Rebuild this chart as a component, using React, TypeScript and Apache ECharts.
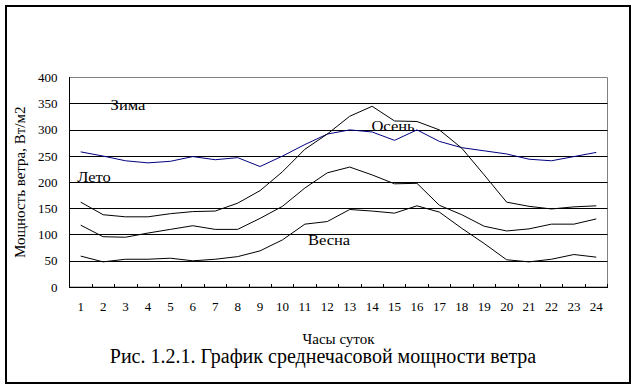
import React, { useEffect, useRef } from "react";
import * as echarts from "echarts";

const hours = ["1","2","3","4","5","6","7","8","9","10","11","12","13","14","15","16","17","18","19","20","21","22","23","24"];
const seriesBlue = [258, 250, 241, 237, 240, 249, 243, 247, 230, 250, 272, 292, 300, 296, 280, 300, 278, 266, 260, 254, 244, 241, 249, 257];
const seriesTop = [162, 138, 134, 134, 140, 144, 145, 160, 184, 220, 263, 292, 326, 345, 317, 316, 300, 265, 214, 162, 154, 149, 153, 155];
const seriesMid = [118, 96, 95, 103, 110, 117, 110, 110, 131, 154, 189, 218, 229, 214, 197, 198, 156, 138, 116, 107, 111, 120, 120, 130];
const seriesLow = [59, 48, 53, 53, 55, 50, 53, 58, 69, 90, 120, 125, 148, 145, 141, 155, 143, 112, 83, 52, 48, 53, 62, 57];
const yTicks = { min: 0, max: 400, interval: 50 };
const labels = [
  { text: "Зима", x: 128, y: 105 },
  { text: "Осень", x: 393, y: 126 },
  { text: "Лето", x: 94, y: 177 },
  { text: "Весна", x: 329, y: 240 },
];
const yName = "Мощность ветра, Вт/м2";
const xName = "Часы суток";
const caption = "Рис. 1.2.1. График среднечасовой мощности ветра";

const FONT = "'Liberation Serif', 'Times New Roman', serif";

export default function App() {
  const ref = useRef<HTMLDivElement>(null);
  useEffect(() => {
    if (!ref.current) return;
    const chart = echarts.init(ref.current, null, { renderer: "svg" });
    const line = (name: string, data: number[], color: string) => ({
      name,
      type: "line",
      data,
      symbol: "none",
      lineStyle: { color, width: 1 },
      z: 3,
    });
    chart.setOption({
      animation: false,
      backgroundColor: "#ffffff",
      textStyle: { fontFamily: FONT },
      grid: {
        left: 69.5,
        top: 77.5,
        right: 29.5,
        bottom: 102,
        show: true,
        borderColor: "#808080",
        borderWidth: 1,
        backgroundColor: "transparent",
      },
      xAxis: {
        type: "category",
        data: hours,
        boundaryGap: true,
        name: xName,
        nameLocation: "middle",
        nameGap: 44,
        nameTextStyle: { fontFamily: FONT, fontSize: 15, color: "#000" },
        axisLine: { lineStyle: { color: "#000", width: 1 } },
        axisTick: { show: true, inside: true, length: 3, lineStyle: { color: "#000" } },
        axisLabel: { fontFamily: FONT, fontSize: 13, color: "#000", margin: 13, interval: 0 },
        splitLine: { show: false },
      },
      yAxis: {
        type: "value",
        min: yTicks.min,
        max: yTicks.max,
        interval: yTicks.interval,
        name: yName,
        nameLocation: "middle",
        nameRotate: 90,
        nameGap: 42,
        nameTextStyle: { fontFamily: FONT, fontSize: 15, color: "#000" },
        axisLine: { show: true, lineStyle: { color: "#000", width: 1 } },
        axisTick: { show: false },
        axisLabel: { fontFamily: FONT, fontSize: 13, color: "#000", margin: 12 },
        splitLine: { show: true, showMaxLine: false, lineStyle: { color: "#000", width: 1 } },
      },
      series: [
        line("Зима", seriesBlue, "#000080"),
        line("Лето", seriesTop, "#000000"),
        line("Осень", seriesMid, "#000000"),
        line("Весна", seriesLow, "#000000"),
      ],
      graphic: [
        {
          type: "rect",
          shape: { x: 6, y: 6, width: 624, height: 377 },
          style: { fill: "none", stroke: "#000", lineWidth: 2 },
          silent: true,
        },
        ...labels.map((l) => ({
          type: "text",
          x: l.x,
          y: l.y,
          scaleX: 1.18,
          style: {
            text: l.text,
            fontFamily: FONT,
            fontSize: 14,
            fill: "#000",
            align: "center",
            verticalAlign: "middle",
          },
          z: 10,
        })),
        {
          type: "text",
          x: 323,
          y: 356,
          style: {
            text: caption,
            fontFamily: FONT,
            fontSize: 20,
            fill: "#000",
            align: "center",
            verticalAlign: "middle",
          },
        },
      ],
    });
    return () => chart.dispose();
  }, []);
  return (
    <div
      ref={ref}
      style={{ position: "fixed", left: 0, top: 0, width: 637, height: 389, background: "#fff" }}
    />
  );
}
